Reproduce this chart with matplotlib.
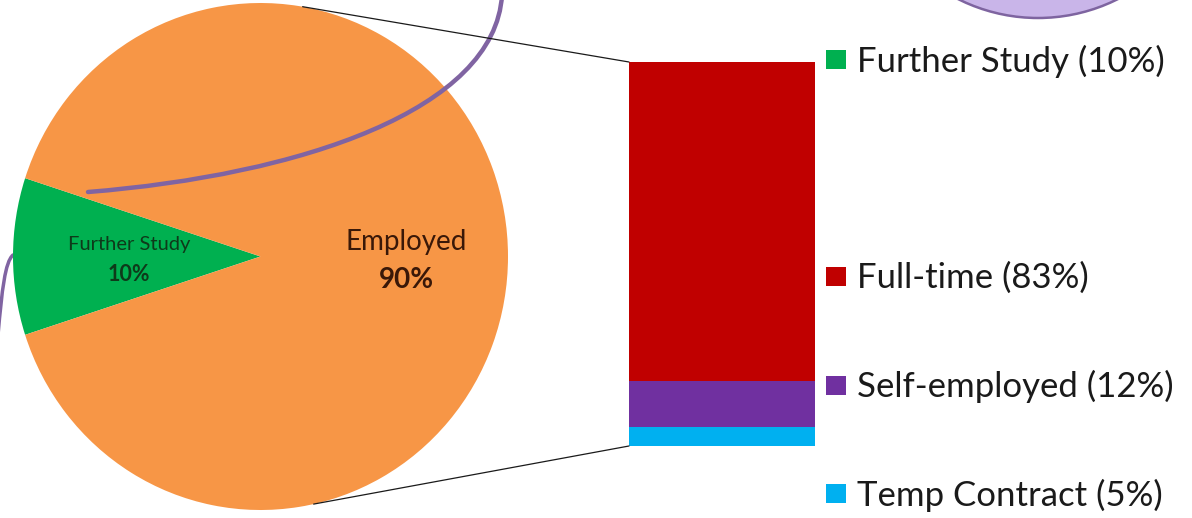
import numpy as np
import matplotlib
matplotlib.use("Agg")
import matplotlib.pyplot as plt
from matplotlib.patches import Rectangle, Circle, PathPatch, ConnectionPatch
from matplotlib.path import Path

plt.rcParams['font.family'] = ['Lato', 'DejaVu Sans']

# ---- data ----
pie_labels = ["Further Study", "Employed"]
pie_values = [10, 90]
pie_colors = ["#00B050", "#F79646"]

bar_labels = ["Temp Contract", "Self-employed", "Full-time"]
bar_values = [5, 12, 83]
bar_colors = ["#00B0F0", "#7030A0", "#C00000"]

legend_labels = ["Further Study (10%)", "Full-time (83%)", "Self-employed (12%)", "Temp Contract (5%)"]
legend_colors = ["#00B050", "#C00000", "#7030A0", "#00B0F0"]
legend_slots = [0, 2, 3, 4]

W, H = 1192, 518
fig = plt.figure(figsize=(W / 100, H / 100), dpi=100)
ax = fig.add_axes([0, 0, 1, 1])
ax.set_xlim(0, W)
ax.set_ylim(H, 0)
ax.axis('off')

# decorative circle (top right)
ax.add_patch(Circle((1038, -160), 178, facecolor="#C9B5E9", edgecolor="#7E64A0", lw=1.8, zorder=1))

# ---- pie (own axes, slightly elliptical like the reference) ----
px0, px1, py0, py1 = 13, 508, 3, 510
axp = fig.add_axes([px0 / W, (H - py1) / H, (px1 - px0) / W, (py1 - py0) / H])
wedges, _ = axp.pie(pie_values, colors=pie_colors, startangle=162, radius=1,
                    frame=True, wedgeprops=dict(linewidth=0))
axp.set_xlim(-1, 1)
axp.set_ylim(-1, 1)
axp.set_aspect('auto')
axp.axis('off')
axp.patch.set_alpha(0)

# pie labels
label_dist = [0.53, 0.59]
label_off = [15, 19]          # px half-gap between name and percentage
label_shift = [-3, -5]        # px vertical shift of the label block
name_colors = ["#0E3A1A", "#3A1808"]
name_sizes = [14.5, 20]
pct_sizes = [15.5, 20]
for w, name, val, d, off, sh, col, ns, ps in zip(wedges, pie_labels, pie_values, label_dist,
                                                 label_off, label_shift, name_colors,
                                                 name_sizes, pct_sizes):
    mid = np.deg2rad((w.theta1 + w.theta2) / 2)
    x, y = d * np.cos(mid), d * np.sin(mid)
    axp.annotate(name, (x, y), xytext=(0, (off + sh) * 0.72), textcoords="offset points",
                 ha="center", va="center", fontsize=ns, color=col, zorder=5)
    axp.annotate(f"{val}%", (x, y), xytext=(0, (-off + sh) * 0.72), textcoords="offset points",
                 ha="center", va="center", fontsize=ps, color=col, fontweight="bold", zorder=5)

# decorative purple curves (drawn over the pie)
axd = fig.add_axes([0, 0, 1, 1])
axd.set_xlim(0, W)
axd.set_ylim(H, 0)
axd.axis('off')
axd.patch.set_alpha(0)
verts = [(502, -5), (495, 110), (300, 175), (88, 192)]
axd.add_patch(PathPatch(Path(verts, [Path.MOVETO, Path.CURVE4, Path.CURVE4, Path.CURVE4]),
                        facecolor="none", edgecolor="#8064A2", lw=3.2, capstyle="round"))
verts2 = [(13, 255), (5, 262), (2, 290), (-2, 335)]
ax.add_patch(PathPatch(Path(verts2, [Path.MOVETO, Path.CURVE4, Path.CURVE4, Path.CURVE4]),
                       facecolor="none", edgecolor="#8064A2", lw=2.5, capstyle="round", zorder=1))

# ---- stacked bar ----
bx0, bx1, by0, by1 = 629, 815, 62, 446
axb = fig.add_axes([bx0 / W, (H - by1) / H, (bx1 - bx0) / W, (by1 - by0) / H])
bottom = 0
for v, c in zip(bar_values, bar_colors):
    axb.bar(0, v, bottom=bottom, width=1, color=c, linewidth=0)
    bottom += v
axb.set_xlim(-0.5, 0.5)
axb.set_ylim(0, sum(bar_values))
axb.axis('off')

# connector lines
for ang, corner in [(80.2, (0, 1)), (-77.6, (0, 0))]:
    a = np.deg2rad(ang)
    p = (np.cos(a), np.sin(a))
    con = ConnectionPatch(xyA=p, coordsA=axp.transData, xyB=corner, coordsB=axb.transAxes,
                          color="#1a1a1a", lw=0.9, zorder=6)
    fig.add_artist(con)

# ---- legend ----
for lab, col, slot in zip(legend_labels, legend_colors, legend_slots):
    y = 59.5 + slot * 108.6
    axd.add_patch(Rectangle((826, y - 9.5), 19.5, 19, facecolor=col, edgecolor="none", zorder=5))
    axd.text(857, y + 1.5, lab, ha="left", va="center", fontsize=25, color="#1a1a1a", zorder=5)

fig.savefig("out.png", dpi=100)
